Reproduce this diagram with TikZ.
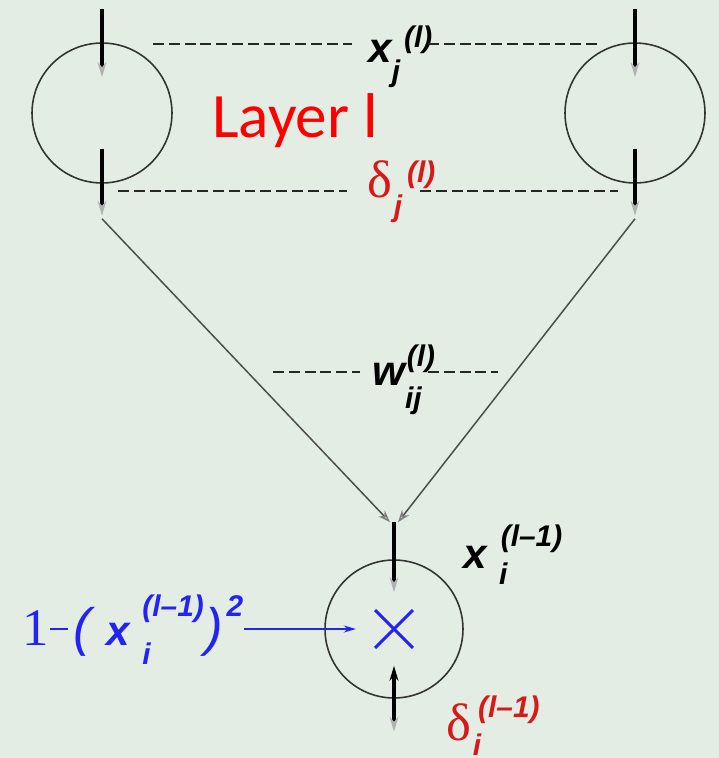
\documentclass[tikz,border=0pt]{standalone}
\usepackage{fontspec}
\setmainfont{Liberation Serif}
\setsansfont{Liberation Sans}
\newfontfamily\layerfont{Carlito}
\usetikzlibrary{arrows.meta, calc, shapes.misc}
\definecolor{bgcol}{RGB}{228,237,228}
\definecolor{deltared}{RGB}{215,25,25}
\definecolor{actblue}{RGB}{35,35,245}
\newcommand{\scr}[1]{{\fontsize{17}{17}\selectfont\sffamily\bfseries\itshape #1}}
\newcommand{\bsym}[1]{{\fontsize{24}{24}\selectfont\sffamily\bfseries\itshape #1}}
\newcommand{\dsym}{{\fontsize{30}{30}\selectfont δ}}

\begin{document}
\begin{tikzpicture}[x=0.02cm, y=-0.02cm,
  every node/.style={inner sep=0pt, anchor=base west},
  neuron/.style={circle, draw=black!80, line width=0.9pt, anchor=center},
  stub/.style  ={line width=2.4pt, -{Stealth[gray!60, length=8.5pt, width=5pt]}},
  link/.style  ={black!70, line width=0.85pt, -{Stealth[open, gray, length=7pt, width=5pt]}},
  guide/.style ={black!85, line width=1.2pt, dash pattern=on 6.2pt off 2.8pt},
  feed/.style  ={actblue, line width=0.9pt, -{Stealth[open, fill=white, length=7pt, width=4pt]}},
]
\fill[bgcol] (0,0) rectangle (719,758);
\useasboundingbox (0,0) rectangle (719,758);

% Layer l
\node[neuron, minimum size=2.8cm] (nl) at (102,113) {};
\node[neuron, minimum size=2.8cm] (nr) at (635,113) {};
\node[red] (layer) at (212,137) {\layerfont\fontsize{36}{36}\selectfont Layer l};

\coordinate (nlin)  at (102,9);
\coordinate (nrin)  at (635,9);
\coordinate (nlout) at ($(nl.south)+(0,32)$);
\coordinate (nrout) at ($(nr.south)+(0,32)$);
\draw[stub] (nlin) -- ($(nl.north)+(0,35)$);
\draw[stub] (nrin) -- ($(nr.north)+(0,35)$);
\draw[stub] ($(nl.south)+(0,-35)$) -- (nlout);
\draw[stub] ($(nr.south)+(0,-35)$) -- (nrout);

% Layer l-1
\node[neuron, minimum size=2.76cm] (nb) at (394,629) {};
\node[cross out, draw=actblue, line width=1.7pt, minimum size=0.7cm, anchor=center] (mul) at (nb) {};
\coordinate (nbin) at ($(nb.north)+(0,-37)$);
\draw[stub] (nbin) -- ($(nb.north)+(0,33)$);
\draw[line width=2.4pt, {Stealth[length=8.5pt, width=5pt]}-{Stealth[gray!60, length=8.5pt, width=5pt]}]
  ($(nb.south)+(0,-33)$) -- ($(nb.south)+(0,33)$);

% Weights
\draw[link] ($(nlout)+(0,3)$) -- ($(nbin)+(-4,0)$);
\draw[link] ($(nrout)+(0,3)$) -- ($(nbin)+(4,0)$);

% Labels
\node (xj) at (368,62)
  {\bsym{x}\rlap{\raisebox{-11pt}{\scr{j}}}\kern7pt\raisebox{8.5pt}{\scr{(l)}}};
\node[deltared] (dj) at (367,197)
  {\dsym\kern1pt\rlap{\raisebox{-11pt}{\scr{j}}}\kern7.5pt\raisebox{8.5pt}{\scr{(l)}}};
\node (wij) at (372,385)
  {\bsym{w}\rlap{\raisebox{-13.5pt}{\scr{ij}}}\kern1pt\raisebox{10.5pt}{\scr{(l)}}};
\node (xi) at (463,568)
  {\bsym{x}\kern7pt\rlap{\raisebox{-9.6pt}{\scr{i}}}\kern1pt\raisebox{12.5pt}{\scr{(l–1)}}};
\node[deltared] (di) at (446,740)
  {\dsym\kern1pt\rlap{\raisebox{-9pt}{\scr{i}}}\kern3pt\raisebox{13pt}{\scr{(l–1)}}};
\node[actblue] (act) at (22,645)
  {{\fontsize{30}{30}\selectfont 1}\kern1pt\rule[8.6pt]{10pt}{1.1pt}\kern3pt%
   {\fontsize{30}{30}\selectfont\sffamily\itshape (}\kern9pt%
   \bsym{x}\kern7pt\rlap{\raisebox{-11pt}{\scr{i}}}\raisebox{16pt}{\scr{(l–1)}}%
   \kern1pt{\fontsize{30}{30}\selectfont\sffamily\itshape )}\kern2pt\raisebox{16pt}{\scr{2}}};

% Guides
\draw[guide] (153,44) -- (352,44);
\draw[guide] (428,44) -- (600,44);
\draw[guide] (118,191) -- (347,191);
\draw[guide] (420,191) -- (618,191);
\draw[guide] (273,372) -- (360,372);
\draw[guide] (428,372) -- (498,372);

\draw[feed, shorten >=10.8pt] (act.east |- mul.west) -- (mul.west);
\end{tikzpicture}
\end{document}
